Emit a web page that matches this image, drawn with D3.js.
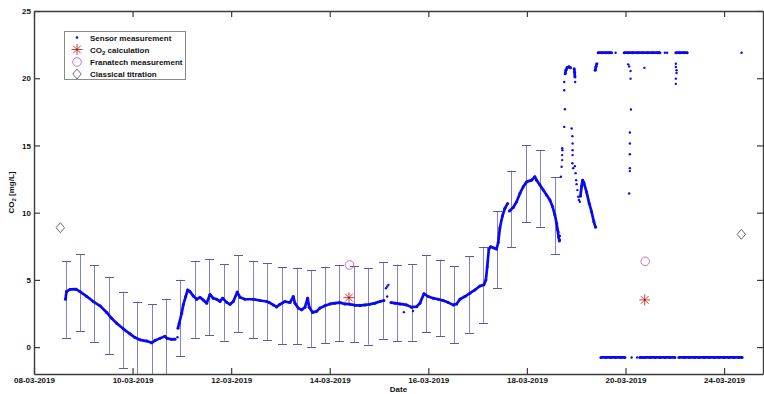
<!DOCTYPE html>
<html>
<head>
<meta charset="utf-8">
<script src="https://cdn.jsdelivr.net/npm/d3@7"></script>
<style>
  html, body { margin: 0; padding: 0; background: #fff; }
  svg { display: block; font-family: "Liberation Sans", Arial, sans-serif; font-weight: bold; }
</style>
</head>
<body>
<svg id="chart" width="764" height="394"></svg>
<script>
// Time is in days since 08-03-2019 00:00.
const tickDays = [0, 2, 4, 6, 8, 10, 12, 14];
const dateLabels = ["08-03-2019", "10-03-2019", "12-03-2019", "14-03-2019",
                    "16-03-2019", "18-03-2019", "20-03-2019", "24-03-2019"];
const valueTicks = [0, 5, 10, 15, 20, 25];

// Sensor trace: continuous runs, null marks a break in the record.
const traceDays = [
  0.639, 0.659, 0.730, 0.852, 0.933, 1.069, 1.203, 1.339, 1.475, 1.576, 1.677, 1.811, 1.947, 2.049,
  2.150, 2.286, 2.387, 2.454, 2.556, 2.657, 2.698, 2.793, 2.860, 2.880,
  2.921, 2.947, 2.996, 3.028, 3.077, 3.118, 3.164, 3.231, 3.300, 3.367, 3.434, 3.503, 3.570, 3.637,
  3.706, 3.773, 3.828, 3.909, 3.976, 4.043, 4.124, 4.178, 4.280, 4.448, 4.584, 4.720, 4.773, 4.854,
  4.923, 4.990, 5.091, 5.193, 5.260, 5.294, 5.361, 5.430, 5.497, 5.552, 5.584, 5.653, 5.734, 5.801,
  5.903, 6.004, 6.105, 6.207, 6.308, 6.410, 6.511, 6.613, 6.714, 6.815, 6.917, 7.018, 7.099, 7.120,
  7.241, 7.323, 7.424, 7.560, 7.661, 7.763, 7.830, 7.911, 7.998, 8.099, 8.201, 8.302, 8.404, 8.505,
  8.574, 8.641, 8.742, 8.844, 8.945, 9.047, 9.128, 9.168, 9.195, 9.229, 9.264, 9.331, 9.385, 9.418,
  9.452, 9.503, 9.554, 9.609, 9.625,
  9.645, 9.722, 9.791, 9.858, 9.925, 9.994, 10.095, 10.162, 10.197, 10.264, 10.331, 10.400, 10.467,
  10.521, 10.568, 10.602, 10.623, 10.643, 10.659, 10.670,
  10.777, 10.791, 10.817, 10.852, 10.886, 10.900,
  10.959, 10.967, 10.974, 10.978,
  11.085, 11.110, 11.130, 11.156, 11.211, 11.264, 11.312, 11.359, 11.394, 11.395,
  11.386, 11.400, 11.420, 11.430,
  11.446, 11.520, 11.600, 11.660, 11.718, 11.730,
  11.974, 12.050, 12.150, 12.250, 12.350, 12.450, 12.550, 12.650, 12.698, 12.710,
  13.022, 13.100, 13.180, 13.252, 13.260,
  11.501, 11.600, 11.700, 11.800, 11.900, 11.988, 11.990,
  12.292, 12.359, 12.370,
  12.394, 12.500, 12.600, 12.700, 12.800, 12.900, 13.002, 13.010,
  13.083, 13.200, 13.300, 13.400, 13.500, 13.600, 13.700, 13.800, 13.900, 14.000, 14.100, 14.200, 14.300, 14.367
];
const traceValues = [
  3.56, 4.13, 4.29, 4.31, 4.13, 3.77, 3.39, 3.07, 2.58, 2.14, 1.77, 1.36, 0.99, 0.71,
  0.54, 0.45, 0.32, 0.49, 0.65, 0.80, 0.65, 0.58, 0.59, null,
  1.41, 1.78, 2.52, 3.14, 3.76, 4.25, 4.13, 3.81, 3.56, 3.70, 3.51, 3.27, 3.92, 3.64,
  3.56, 3.40, 3.64, 3.33, 3.18, 3.39, 4.09, 3.71, 3.56, 3.56, 3.47, 3.39, 3.31, 3.14,
  2.99, 3.18, 3.39, 3.31, 3.76, 3.27, 2.90, 2.77, 2.97, 3.64, 2.97, 2.58, 2.66, 2.90,
  3.07, 3.21, 3.27, 3.31, 3.21, 3.19, 3.12, 3.09, 3.14, 3.19, 3.27, 3.39, 3.47, null,
  3.31, 3.27, 3.21, 3.14, 2.97, 3.01, 3.27, 3.97, 3.76, 3.64, 3.56, 3.46, 3.31, 3.14,
  3.21, 3.56, 3.76, 4.01, 4.25, 4.55, 4.63, 5.00, 5.98, 7.30, 7.47, 7.37, 7.30, 7.78,
  8.86, 9.75, 10.32, 10.69, null,
  10.12, 10.38, 10.81, 11.43, 11.92, 12.29, 12.42, 12.67, 12.42, 12.05, 11.68, 11.31, 10.94,
  10.44, 9.82, 9.21, 8.71, 8.21, 7.89, null,
  20.34, 20.59, 20.79, 20.85, 20.77, null,
  20.71, 20.44, 20.09, null,
  11.23, 11.97, 12.42, 12.23, 11.53, 10.69, 10.07, 9.32, 8.91, null,
  20.59, 20.85, 21.08, null,
  21.9, 21.9, 21.9, 21.9, 21.9, null,
  21.9, 21.9, 21.9, 21.9, 21.9, 21.9, 21.9, 21.9, 21.9, null,
  21.9, 21.9, 21.9, 21.9, null,
  -0.77, -0.77, -0.77, -0.77, -0.77, -0.77, null,
  -0.77, -0.77, null,
  -0.77, -0.77, -0.77, -0.77, -0.77, -0.77, -0.77, null,
  -0.77, -0.77, -0.77, -0.77, -0.77, -0.77, -0.77, -0.77, -0.77, -0.77, -0.77, -0.77, -0.77, -0.77
];

// Isolated sensor readings.
const scatterDays = [
  2.911, 7.140, 7.166, 7.191, 7.166, 7.505, 7.688,
  10.639, 10.669, 10.669,
  10.690, 10.704, 10.716, 10.716, 10.720, 10.716, 10.757, 10.771, 10.757, 10.757, 10.980,
  10.907, 10.923, 10.927, 10.927, 10.927, 10.923, 10.939, 10.974, 10.988, 11.000, 11.008, 11.024, 11.041, 11.055, 11.075,
  11.799, 12.799, 12.846, 14.355, 12.124, 12.237,
  12.055, 12.075, 12.103, 12.103, 12.110, 12.089, 12.089, 12.089, 12.089, 12.089, 12.075, 12.383,
  13.022, 13.022, 13.036, 13.036, 13.022, 13.022
];
const scatterValues = [
  0.73, 4.38, 4.51, 4.63, 3.76, 2.60, 2.69,
  8.56, 8.26, 7.97,
  12.67, 13.41, 13.91, 14.28, 14.65, 14.80, 16.38, 17.69, 19.10, 19.72, 19.72,
  16.26, 15.69, 15.14, 14.65, 14.28, 13.68, 13.31, 13.46, 12.94, 12.42, 12.12, 11.68, 11.18, 10.94, 10.81,
  21.9, 21.9, 21.9, 21.9, -0.77, -0.77,
  21.03, 20.88, 20.53, 19.97, 17.67, 15.96, 15.14, 14.35, 13.31, 13.09, 11.43, 20.77,
  21.08, 20.83, 20.59, 20.39, 19.97, 19.58
];

// Error bars: interval means with a fixed half-width.
const errDays = [0.643, 0.933, 1.227, 1.517, 1.809, 2.099, 2.394, 2.688, 2.972, 3.266, 3.556, 3.854,
  4.144, 4.436, 4.732, 5.030, 5.329, 5.613, 5.897, 6.193, 6.485, 6.781, 7.073, 7.363, 7.661, 7.945,
  8.235, 8.525, 8.817, 9.108, 9.391, 9.686, 9.980, 10.270, 10.568];
const errMeans = [3.55, 4.05, 3.25, 2.34, 1.27, 0.53, 0.34, 0.76, 2.17, 3.53, 3.72, 3.33,
  3.97, 3.52, 3.38, 3.09, 3.07, 2.87, 3.14, 3.27, 3.20, 3.03, 3.47, 3.29, 3.31, 3.97,
  3.65, 3.16, 3.92, 4.62, 7.25, 10.28, 12.15, 11.81, 9.78];
const errHalfWidth = 2.85;

// Reference measurements.
const calcDays = [6.39, 12.39];
const calcValues = [3.68, 3.51];
const franatechDays = [6.40, 12.40];
const franatechValues = [6.11, 6.38];
const titrationDays = [0.534, 14.35];
const titrationValues = [8.88, 8.39];

const W = 764, H = 394;
const margin = { top: 11, right: 1, bottom: 20, left: 34 };
const svg = d3.select("#chart");

const x = d3.scaleLinear().domain([0, 14.79]).range([margin.left, W - margin.right]);
const y = d3.scaleLinear().domain([-2, 25]).range([H - margin.bottom, margin.top]);

const blue = "#0a0af0";
const errColor = "#5a5aa8";
const calcColor = "#d23c3c";
const franColor = "#d26ad2";
const titrColor = "#6e6e6e";

svg.append("defs").append("clipPath").attr("id", "plotClip")
  .append("rect")
  .attr("x", x.range()[0]).attr("y", y.range()[1])
  .attr("width", x.range()[1] - x.range()[0])
  .attr("height", y.range()[0] - y.range()[1]);

const plot = svg.append("g").attr("clip-path", "url(#plotClip)");

// Error bars
const bars = plot.append("g").attr("stroke", errColor).attr("stroke-width", 1).attr("fill", "none");
errDays.forEach((d, i) => {
  const cx = Math.round(x(d)) + 0.5;
  const lo = y(errMeans[i] - errHalfWidth), hi = y(errMeans[i] + errHalfWidth);
  bars.append("line").attr("x1", cx).attr("x2", cx).attr("y1", lo).attr("y2", hi).attr("stroke-opacity", 0.75);
  bars.append("line").attr("x1", cx - 4.5).attr("x2", cx + 4.5).attr("y1", Math.round(lo) + 0.5).attr("y2", Math.round(lo) + 0.5);
  bars.append("line").attr("x1", cx - 4.5).attr("x2", cx + 4.5).attr("y1", Math.round(hi) + 0.5).attr("y2", Math.round(hi) + 0.5);
});

// Sensor trace
const trace = traceDays.map((d, i) => ({ d, v: traceValues[i] }));
const line = d3.line().defined(p => p.v !== null).x(p => x(p.d)).y(p => y(p.v));
plot.append("path").datum(trace)
  .attr("d", line).attr("fill", "none").attr("stroke", blue)
  .attr("stroke-width", 2.7).attr("stroke-linejoin", "round");
plot.append("g").selectAll("circle")
  .data(trace.filter(p => p.v !== null))
  .join("circle").attr("cx", p => x(p.d)).attr("cy", p => y(p.v)).attr("r", 1.5).attr("fill", blue);
plot.append("g").selectAll("circle")
  .data(scatterDays.map((d, i) => ({ d, v: scatterValues[i] })))
  .join("circle").attr("cx", p => x(p.d)).attr("cy", p => y(p.v)).attr("r", 1.2).attr("fill", blue);

// Marker shapes
function asterisk(g, cx, cy, r, color) {
  [0, 45, 90, 135].forEach(a => {
    const t = a * Math.PI / 180;
    g.append("line")
      .attr("x1", cx - r * Math.cos(t)).attr("y1", cy - r * Math.sin(t))
      .attr("x2", cx + r * Math.cos(t)).attr("y2", cy + r * Math.sin(t))
      .attr("stroke", color).attr("stroke-width", 1);
  });
  g.append("circle").attr("cx", cx).attr("cy", cy).attr("r", 1).attr("fill", "#a02020");
}
function diamond(g, cx, cy, color) {
  g.append("path")
    .attr("d", `M${cx},${cy - 5}L${cx + 4.2},${cy}L${cx},${cy + 5}L${cx - 4.2},${cy}Z`)
    .attr("fill", "none").attr("stroke", color).attr("stroke-width", 1);
}

const marks = plot.append("g");
calcDays.forEach((d, i) => asterisk(marks, x(d), y(calcValues[i]), 5.5, calcColor));
franatechDays.forEach((d, i) => marks.append("circle")
  .attr("cx", x(d)).attr("cy", y(franatechValues[i])).attr("r", 4.3)
  .attr("fill", "none").attr("stroke", franColor).attr("stroke-width", 1));
titrationDays.forEach((d, i) => diamond(marks, x(d), y(titrationValues[i]), titrColor));

// Axes
const axisColor = "#3c3c3c";
function styleAxis(g) {
  g.select(".domain").attr("stroke", axisColor).attr("stroke-width", 1.4);
  g.selectAll(".tick line").attr("stroke", axisColor).attr("stroke-width", 1.2);
  g.selectAll(".tick text").attr("fill", "#111").style("font-size", "8px").style("font-weight", "bold")
    .style("font-family", "'Liberation Sans', Arial, sans-serif");
}
svg.append("g").attr("transform", `translate(0,${y.range()[0]})`)
  .call(d3.axisBottom(x).tickValues(tickDays).tickFormat((d, i) => dateLabels[i])
    .tickSizeInner(-6).tickSizeOuter(0).tickPadding(3))
  .call(styleAxis);
svg.append("g").attr("transform", `translate(0,${y.range()[1]})`)
  .call(d3.axisTop(x).tickValues(tickDays).tickFormat("").tickSizeInner(-6).tickSizeOuter(0))
  .call(styleAxis);
svg.append("g").attr("transform", `translate(${x.range()[0]},0)`)
  .call(d3.axisLeft(y).tickValues(valueTicks).tickFormat(d3.format("d"))
    .tickSizeInner(-6).tickSizeOuter(0).tickPadding(3))
  .call(styleAxis);
svg.append("g").attr("transform", `translate(${x.range()[1]},0)`)
  .call(d3.axisRight(y).tickValues(valueTicks).tickFormat("").tickSizeInner(-6).tickSizeOuter(0))
  .call(styleAxis);

// Axis titles
svg.append("text").attr("x", (x.range()[0] + x.range()[1]) / 2).attr("y", 392)
  .attr("text-anchor", "middle").style("font-size", "8px").attr("fill", "#111").text("Date");
const yl = svg.append("text")
  .attr("transform", `translate(14,${(y.range()[0] + y.range()[1]) / 2}) rotate(-90)`)
  .attr("text-anchor", "middle").style("font-size", "8px").attr("fill", "#111");
yl.append("tspan").text("CO");
yl.append("tspan").attr("dy", 2).style("font-size", "6px").text("2");
yl.append("tspan").attr("dy", -2).text(" [mg/L]");

// Legend
const lg = svg.append("g");
lg.append("rect").attr("x", 64.5).attr("y", 31.5).attr("width", 121).attr("height", 48)
  .attr("fill", "#fff").attr("stroke", "#8a8a8a").attr("stroke-width", 1);
const lx = 77, tx = 90, rows = [37.5, 49.5, 62, 74];
lg.append("circle").attr("cx", lx).attr("cy", rows[0]).attr("r", 1.3).attr("fill", blue);
asterisk(lg, lx, rows[1], 5.5, calcColor);
lg.append("circle").attr("cx", lx).attr("cy", rows[2]).attr("r", 4.3)
  .attr("fill", "none").attr("stroke", franColor).attr("stroke-width", 1);
diamond(lg, lx, rows[3], titrColor);
const legendText = (row) => lg.append("text").attr("x", tx).attr("y", row + 3)
  .style("font-size", "8px").attr("fill", "#111");
legendText(rows[0]).text("Sensor measurement");
const t2 = legendText(rows[1]);
t2.append("tspan").text("CO");
t2.append("tspan").attr("dy", 2).style("font-size", "6px").text("2");
t2.append("tspan").attr("dy", -2).text(" calculation");
legendText(rows[2]).text("Franatech measurement");
legendText(rows[3]).text("Classical titration");
</script>
</body>
</html>
